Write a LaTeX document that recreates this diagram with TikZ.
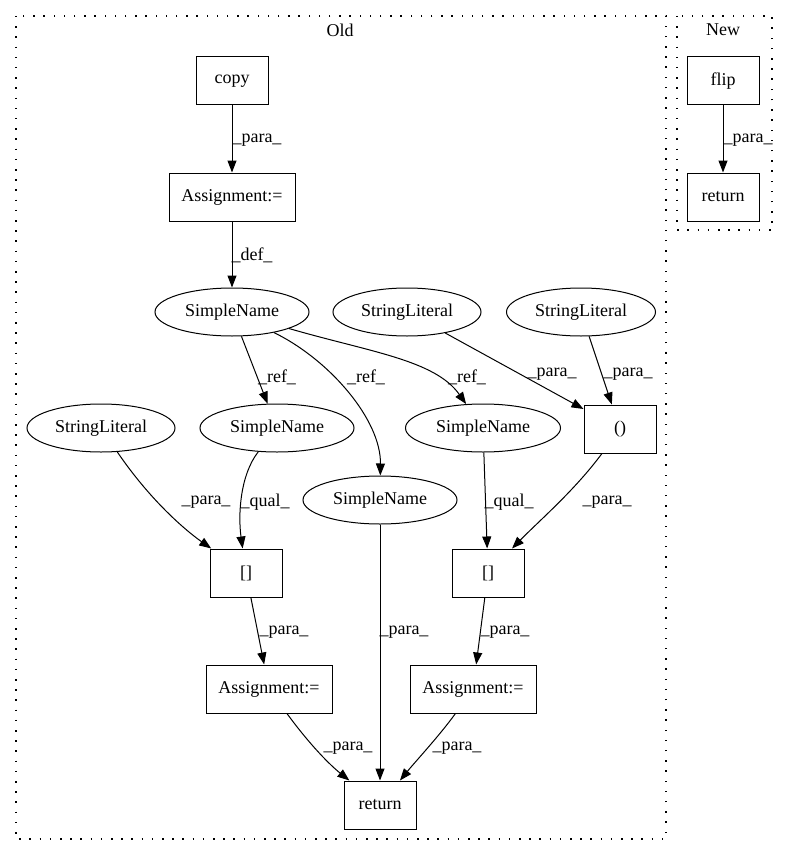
\documentclass[tikz,border=0pt]{standalone}
\usepackage{fontspec}
\setmainfont{Liberation Serif}
\usetikzlibrary{arrows.meta,shapes.geometric}
\tikzset{
  box/.style={draw, line width=1pt, rectangle, minimum width=72pt, minimum height=48pt, inner sep=0pt},
  wbox/.style={box, minimum width=126pt},
  ell/.style={draw, line width=1pt, ellipse, minimum height=48pt, inner sep=0pt},
  edge/.style={draw, line width=1pt, -{Triangle[length=12pt,width=9pt]}},
  lbl/.style={inner sep=0pt},
  clus/.style={draw, line width=1.2pt, dash pattern=on 1.5pt off 8.7pt},
}
\begin{document}
\begin{tikzpicture}[x=1pt,y=-1pt,font=\fontsize{18}{21}\selectfont]
\useasboundingbox (0,0) rectangle (788,856);
% clusters
\draw[clus] (16,16) rectangle (666,839);
\draw[clus] (677,16) rectangle (772,230);
\node[lbl] (tOld) at (340,30) {Old};
\node[lbl] (tNew) at (723,30) {New};
% Old nodes
\node[box] (copy) at (232,81) {copy};
\node[wbox] (a0) at (232,197) {Assignment:=};
\node[ell, minimum width=154pt] (sn0) at (232,312) {SimpleName};
\node[ell, minimum width=148pt] (sl1) at (407,312) {StringLiteral};
\node[ell, minimum width=149pt] (sl2) at (581,312) {StringLiteral};
\node[ell, minimum width=148pt] (sll) at (101,428) {StringLiteral};
\node[ell, minimum width=154pt] (sn1) at (277,428) {SimpleName};
\node[ell, minimum width=155pt] (sn2) at (483,428) {SimpleName};
\node[box] (par) at (620,429) {()};
\node[ell, minimum width=154pt] (sn3) at (380,500) {SimpleName};
\node[box] (bl) at (246,573) {[]};
\node[box] (br) at (488,573) {[]};
\node[wbox] (al) at (269,689) {Assignment:=};
\node[wbox] (ar) at (473,689) {Assignment:=};
\node[box] (ret) at (380,805) {return};
% New nodes
\node[box] (flip) at (723,81) {flip};
\node[box] (ret2) at (723,197) {return};
% edges
\draw[edge] (copy) -- (a0);
\draw[edge] (a0) -- (sn0);
\draw[edge] (sn0) -- (sn1);
\draw[edge] (sn0) .. controls (330,360) and (381,420) .. (sn3);
\draw[edge] (sn0) .. controls (370,352) and (435,360) .. (sn2);
\draw[edge] (sl1) -- (par);
\draw[edge] (sl2) -- (par);
\draw[edge] (sll) .. controls (150,500) and (185,530) .. (bl);
\draw[edge] (sn1) .. controls (240,475) and (238,515) .. (bl);
\draw[edge] (sn2) -- (br);
\draw[edge] (par) .. controls (575,490) and (540,520) .. (br);
\draw[edge] (sn3) -- (ret);
\draw[edge] (bl) -- (al);
\draw[edge] (br) -- (ar);
\draw[edge] (al) .. controls (310,745) and (330,765) .. (ret);
\draw[edge] (ar) .. controls (440,735) and (415,762) .. (ret);
\draw[edge] (flip) -- (ret2);
% edge labels
\node[lbl] (l1) at (257,140) {\_para\_};
\node[lbl] (l2) at (252,255) {\_def\_};
\node[lbl] (l3) at (748,140) {\_para\_};
\node[lbl] (l4) at (277,377) {\_ref\_};
\node[lbl] (l5) at (366,377) {\_ref\_};
\node[lbl] (l6) at (467,377) {\_ref\_};
\node[lbl] (l7) at (552,374) {\_para\_};
\node[lbl] (l8) at (628,374) {\_para\_};
\node[lbl] (l9) at (206,502) {\_para\_};
\node[lbl] (l10) at (265,502) {\_qual\_};
\node[lbl] (l11) at (509,502) {\_qual\_};
\node[lbl] (l12) at (607,502) {\_para\_};
\node[lbl] (l13) at (404,632) {\_para\_};
\node[lbl] (l14) at (284,632) {\_para\_};
\node[lbl] (l15) at (505,632) {\_para\_};
\node[lbl] (l16) at (348,748) {\_para\_};
\node[lbl] (l17) at (457,748) {\_para\_};
\end{tikzpicture}
\end{document}
